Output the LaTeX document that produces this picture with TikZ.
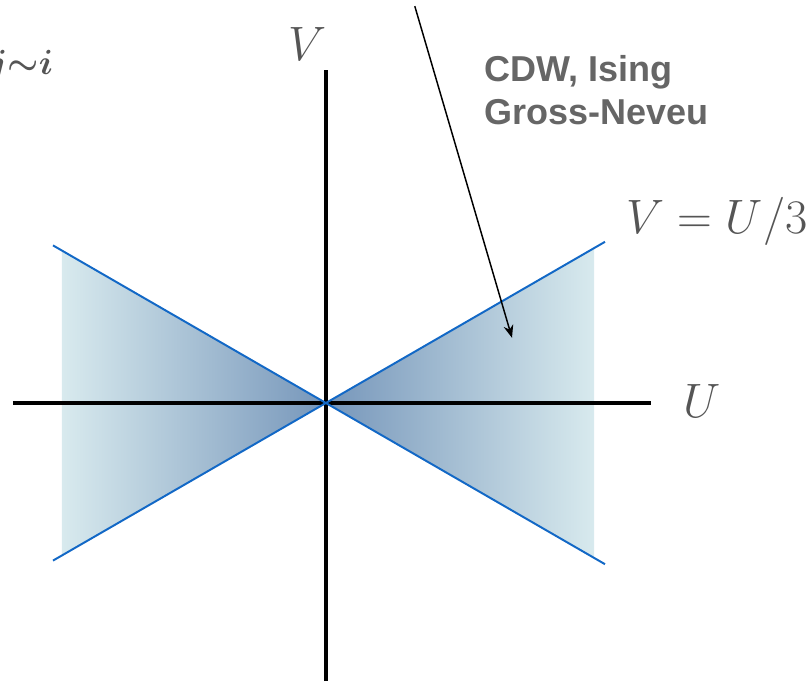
\documentclass[tikz,border=0pt]{standalone}
\usepackage{bm}
\usepackage{fontspec}
\newfontfamily\labelfont{Liberation Sans}
\usetikzlibrary{arrows.meta}
\definecolor{linecol}{RGB}{18,104,198}
\definecolor{darkfill}{RGB}{118,150,186}
\definecolor{lightfill}{RGB}{216,234,238}
\definecolor{textgray}{RGB}{85,85,85}
\definecolor{labelgray}{RGB}{102,102,102}
\newcommand{\biglbl}[1]{\scalebox{1.38}{\Huge$#1$}}

\begin{document}
\begin{tikzpicture}[>={Stealth[length=9pt,width=7pt]},
	axis/.style={line width=2.8pt},
	bound/.style={linecol,line width=1.4pt},
	mathlbl/.style={textgray,inner sep=0pt}]
		\useasboundingbox (-8.15,-6.95) rectangle (12.125,10.075);
		% shaded regions
		\shade[left color=lightfill,right color=darkfill] (-6.6,3.81) -- (0,0) -- (-6.6,-3.81) -- cycle;
		\shade[left color=darkfill,right color=lightfill] (6.7,3.87) -- (0,0) -- (6.7,-3.87) -- cycle;
		% axes
		\draw[axis] (-7.825,0) -- (8.125,0);
		\draw[axis] (0,-6.95) -- (0,8.325);
		% boundary lines
		\draw[bound] (-6.825,3.94) -- (6.975,-4.03);
		\draw[bound] (-6.825,-3.94) -- (6.975,4.03);
		% labels
		\node[mathlbl,anchor=base west] (vlab) at (-0.95,8.55) {\biglbl{V}};
		\node[mathlbl,anchor=base west] (ulab) at (8.93,-0.35) {\biglbl{U}};
		\node[mathlbl,anchor=base west] (line) at (7.5,4.25) {\biglbl{V=U/3}};
		\node[mathlbl,anchor=base east,font=\fontsize{24}{28}\selectfont\boldmath] (sum) at (-6.82,8.2) {$j{\sim}i$};
		\node[labelgray,inner sep=0pt,anchor=north west,align=left,
			font=\labelfont\bfseries\fontsize{25.6}{30.6}\selectfont] (phase) at (3.96,8.7) {CDW, Ising\\Gross-Neveu};
		% arrow
		\coordinate (top) at (2.22,9.92);
		\coordinate (tip) at (4.65,1.63);
		\draw[->,line width=1.05pt] (top) -- (tip);
	\end{tikzpicture}
\end{document}
